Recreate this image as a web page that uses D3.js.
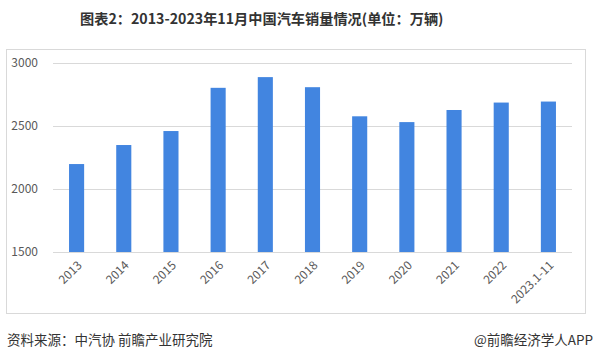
<!DOCTYPE html>
<html><head><meta charset="utf-8">
<script src="https://cdn.jsdelivr.net/npm/d3@7"></script>
<style>html,body{margin:0;padding:0;background:#fff;}svg{display:block;}</style>
</head><body>
<svg id="c" width="594" height="361"></svg>
<script>
const categories = ["2013","2014","2015","2016","2017","2018","2019","2020","2021","2022","2023.1-11"];
const sales = [2198, 2349, 2460, 2803, 2888, 2808, 2577, 2531, 2627, 2686, 2694];
const yTicks = [1500, 2000, 2500, 3000];
const titleText = "图表2：2013-2023年11月中国汽车销量情况(单位：万辆)";
const sourceText = "资料来源：中汽协 前瞻产业研究院";
const creditText = "@前瞻经济学人APP";

const svg = d3.select("#c");
const font = "'Noto Sans CJK SC','Microsoft YaHei',sans-serif";

svg.append("text").attr("x", 80).attr("y", 24)
  .attr("font-family", font).attr("font-weight", "bold").attr("font-size", 14.2)
  .attr("fill", "#333").text(titleText);

// chart frame
svg.append("rect").attr("x", 6.5).attr("y", 49.5).attr("width", 579).attr("height", 264)
  .attr("fill", "none").attr("stroke", "#d9d9d9").attr("stroke-width", 1);

const x = d3.scaleBand().domain(categories).range([53, 572]).paddingInner(0.68).paddingOuter(0.34);
const y = d3.scaleLinear().domain([1500, 3000]).range([252, 63]);

const gy = svg.append("g").attr("transform", "translate(53,0)")
  .call(d3.axisLeft(y).tickValues(yTicks).tickSize(-519).tickFormat(d3.format("d")));
gy.select(".domain").remove();
gy.selectAll(".tick line").attr("stroke", "#d9d9d9");
gy.selectAll(".tick text").attr("x", -15).attr("font-family", font).attr("font-size", 12).attr("fill", "#595959");

svg.append("g").selectAll("rect").data(categories).join("rect")
  .attr("x", d => x(d)).attr("width", x.bandwidth())
  .attr("y", (d, i) => y(sales[i])).attr("height", (d, i) => y(1500) - y(sales[i]))
  .attr("fill", "#4285e0");

const gx = svg.append("g").attr("transform", "translate(0,252)")
  .call(d3.axisBottom(x).tickSize(0));
gx.select(".domain").remove();
gx.selectAll(".tick text")
  .attr("font-family", font).attr("font-size", 12).attr("fill", "#595959")
  .attr("text-anchor", "end").attr("dy", 0).attr("y", 0)
  .attr("transform", "translate(6,14) rotate(-45)");

svg.append("text").attr("x", 7).attr("y", 345).attr("font-family", font)
  .attr("font-size", 13.5).attr("fill", "#333").text(sourceText);
svg.append("text").attr("x", 593).attr("y", 345).attr("text-anchor", "end").attr("font-family", font)
  .attr("font-size", 13.5).attr("fill", "#333").text(creditText);
</script>
</body></html>
